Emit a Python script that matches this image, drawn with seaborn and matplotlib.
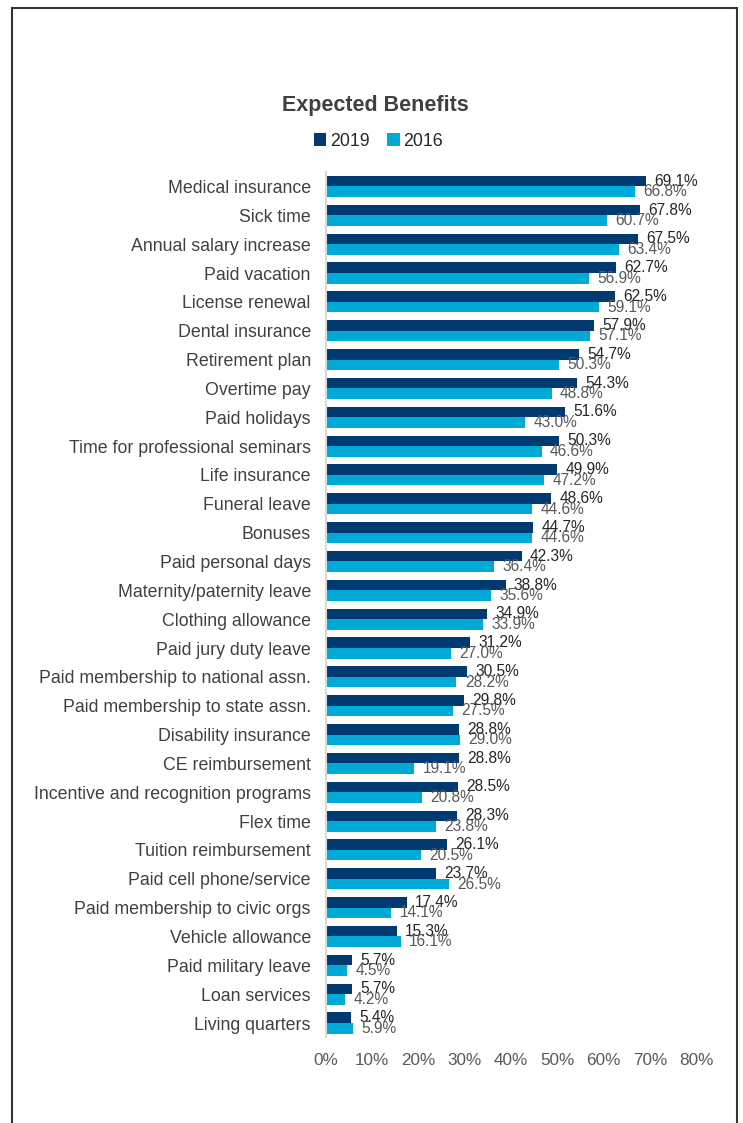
import matplotlib
matplotlib.use("Agg")
import matplotlib.pyplot as plt
from matplotlib.patches import Rectangle
from matplotlib.ticker import PercentFormatter
import seaborn as sns
import pandas as pd

# Benefit categories, top to bottom
benefits = [
    "Medical insurance", "Sick time", "Annual salary increase", "Paid vacation",
    "License renewal", "Dental insurance", "Retirement plan", "Overtime pay",
    "Paid holidays", "Time for professional seminars", "Life insurance",
    "Funeral leave", "Bonuses", "Paid personal days", "Maternity/paternity leave",
    "Clothing allowance", "Paid jury duty leave",
    "Paid membership to national assn.", "Paid membership to state assn.",
    "Disability insurance", "CE reimbursement",
    "Incentive and recognition programs", "Flex time", "Tuition reimbursement",
    "Paid cell phone/service", "Paid membership to civic orgs",
    "Vehicle allowance", "Paid military leave", "Loan services", "Living quarters",
]

# Share of respondents expecting each benefit (%)
pct_2019 = [69.1, 67.8, 67.5, 62.7, 62.5, 57.9, 54.7, 54.3, 51.6, 50.3, 49.9,
            48.6, 44.7, 42.3, 38.8, 34.9, 31.2, 30.5, 29.8, 28.8, 28.8, 28.5,
            28.3, 26.1, 23.7, 17.4, 15.3, 5.7, 5.7, 5.4]
pct_2016 = [66.8, 60.7, 63.4, 56.9, 59.1, 57.1, 50.3, 48.8, 43.0, 46.6, 47.2,
            44.6, 44.6, 36.4, 35.6, 33.9, 27.0, 28.2, 27.5, 29.0, 19.1, 20.8,
            23.8, 20.5, 26.5, 14.1, 16.1, 4.5, 4.2, 5.9]

years = ["2019", "2016"]
colors = {"2019": "#003A70", "2016": "#00A9D6"}
label_colors = {"2019": "#262626", "2016": "#595959"}

df = pd.concat([
    pd.DataFrame({"Benefit": benefits, "Year": "2019", "Share": [v / 100 for v in pct_2019]}),
    pd.DataFrame({"Benefit": benefits, "Year": "2016", "Share": [v / 100 for v in pct_2016]}),
], ignore_index=True)

sns.set_theme(style="white")
plt.rcParams["font.family"] = ["Liberation Sans", "DejaVu Sans"]

fig = plt.figure(figsize=(7.43, 11.23), dpi=100)
ax = fig.add_axes([0.4388, 0.0762, 0.4981, 0.7706])

sns.barplot(data=df, y="Benefit", x="Share", hue="Year", hue_order=years,
            order=benefits, palette=colors, orient="h", width=0.73,
            saturation=1, errorbar=None, linewidth=0, ax=ax, legend=True)

# Value labels at the end of each bar
for container, year in zip(ax.containers, years):
    vals = pct_2019 if year == "2019" else pct_2016
    ax.bar_label(container, labels=[f"{v:.1f}%" for v in vals], padding=6,
                 fontsize=11.2, color=label_colors[year])

ax.set_xlim(0, 0.8)
ax.set_xticks([i / 10 for i in range(9)])
ax.xaxis.set_major_formatter(PercentFormatter(1.0, decimals=0))
ax.set_xlabel("")
ax.set_ylabel("")
ax.tick_params(axis="x", length=0, pad=11, labelsize=12.3, labelcolor="#595959")
ax.tick_params(axis="y", length=0, pad=11, labelsize=12.8, labelcolor="#404040")
for side in ["top", "right", "bottom"]:
    ax.spines[side].set_visible(False)
ax.spines["left"].set_color("#d9d9d9")
ax.spines["left"].set_linewidth(1.5)
ax.grid(False)

# Legend above the plot
handles, lbls = ax.get_legend_handles_labels()
ax.get_legend().remove()
fig.legend(handles, lbls, loc="center", bbox_to_anchor=(0.509, 0.8744),
           ncol=2, frameon=False, fontsize=12.8, handlelength=0.7,
           handleheight=0.7, handletextpad=0.2, columnspacing=1.0,
           labelcolor="#262626")

fig.text(0.505, 0.9060, "Expected Benefits", ha="center", va="center",
         fontsize=15.5, fontweight="bold", color="#404040")

# Outer frame (open at the bottom edge of the page)
fig.patches.append(Rectangle((12 / 743, -0.05), (736.5 - 12) / 743, 1.05 - 8 / 1123,
                             transform=fig.transFigure, fill=False,
                             edgecolor="#333333", linewidth=1.5))

fig.savefig("out.png", dpi=100, facecolor="white")
